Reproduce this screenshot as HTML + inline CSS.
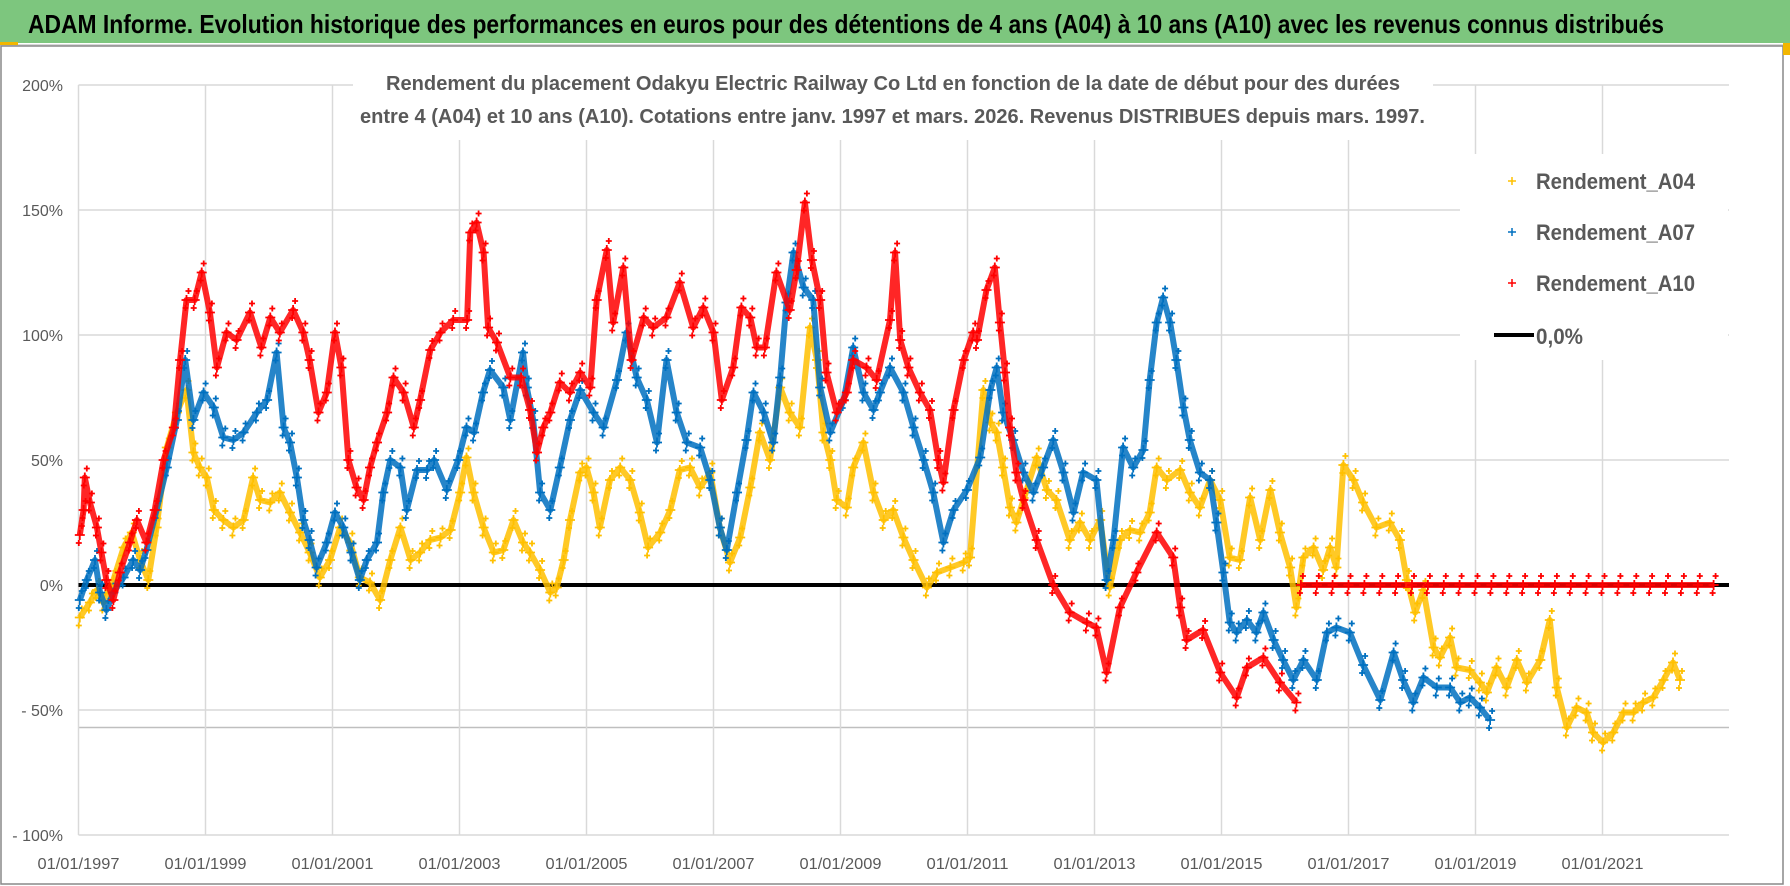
<!DOCTYPE html>
<html><head><meta charset="utf-8">
<style>
html,body{margin:0;padding:0;background:#fff;}
svg{display:block;font-family:"Liberation Sans",sans-serif;}
</style></head>
<body>
<svg id="chart" width="1790" height="886" viewBox="0 0 1790 886" xmlns="http://www.w3.org/2000/svg">
<rect x="0" y="0" width="1790" height="886" fill="#fff"/>
<rect x="0" y="0" width="1790" height="43" fill="#7dc67e"/>
<line x1="0" y1="45" x2="1790" y2="45" stroke="#d9d9d9" stroke-width="2"/>
<rect x="1" y="46" width="1782" height="838" fill="none" stroke="#888" stroke-width="1.5"/>
<rect x="0" y="42" width="18" height="3" fill="#f2b600"/>
<rect x="1783" y="43" width="7" height="12" fill="#f2b600"/>
<text x="28" y="33" font-size="26" font-weight="bold" fill="#000" textLength="1636" lengthAdjust="spacingAndGlyphs">ADAM Informe. Evolution historique des performances en euros pour des détentions de 4 ans (A04) à 10 ans (A10) avec les revenus connus distribués</text>
<g id="grid"></g>
<rect x="353" y="60" width="1080" height="80" fill="#fff"/>
<text x="386" y="90" font-size="20" font-weight="bold" fill="#595959" textLength="1014" lengthAdjust="spacingAndGlyphs">Rendement du placement Odakyu Electric Railway Co Ltd en fonction de la date de début pour des durées</text>
<text x="360" y="123" font-size="20" font-weight="bold" fill="#595959" textLength="1065" lengthAdjust="spacingAndGlyphs">entre 4 (A04) et 10 ans (A10). Cotations entre janv. 1997 et mars. 2026. Revenus DISTRIBUES depuis mars. 1997.</text>
<g id="axes"></g>
<g id="series"></g>
<g id="legend">
<rect x="1460" y="154" width="268" height="206" fill="#fff"/>
<g><path d="M1508 181h8M1512 177v8" stroke="#ffc000" stroke-width="1.5"/><text x="1536" y="189" font-size="22" font-weight="bold" fill="#595959" textLength="159" lengthAdjust="spacingAndGlyphs">Rendement_A04</text></g>
<g><path d="M1508 232h8M1512 228v8" stroke="#0070c0" stroke-width="1.5"/><text x="1536" y="240" font-size="22" font-weight="bold" fill="#595959" textLength="159" lengthAdjust="spacingAndGlyphs">Rendement_A07</text></g>
<g><path d="M1508 283h8M1512 279v8" stroke="#ff0000" stroke-width="1.5"/><text x="1536" y="291" font-size="22" font-weight="bold" fill="#595959" textLength="159" lengthAdjust="spacingAndGlyphs">Rendement_A10</text></g>
<g><line x1="1494" y1="335" x2="1534" y2="335" stroke="#000" stroke-width="4"/><text x="1536" y="344" font-size="22" font-weight="bold" fill="#595959" textLength="47" lengthAdjust="spacingAndGlyphs">0,0%</text></g>
</g>
</svg>
<script>
const yTicks = [200, 150, 100, 50, 0, -50, -100];
const yTickLabels = ["200%", "150%", "100%", "50%", "0%", "- 50%", "- 100%"];
const xTicks = [1997, 1999, 2001, 2003, 2005, 2007, 2009, 2011, 2013, 2015, 2017, 2019, 2021];
const xTickLabels = ["01/01/1997","01/01/1999","01/01/2001","01/01/2003","01/01/2005","01/01/2007","01/01/2009","01/01/2011","01/01/2013","01/01/2015","01/01/2017","01/01/2019","01/01/2021"];
const extraLineValue = -57;

const a04Dates = [1997.02,1997.18,1997.29,1997.39,1997.55,1997.71,1997.84,1997.97,1998.1,1998.23,1998.39,1998.55,1998.7,1998.81,1998.91,1999.02,1999.13,1999.28,1999.44,1999.6,1999.75,1999.86,2000.02,2000.17,2000.33,2000.49,2000.64,2000.8,2000.96,2001.12,2001.28,2001.43,2001.59,2001.75,2001.91,2002.07,2002.23,2002.38,2002.54,2002.7,2002.86,2003.01,2003.11,2003.22,2003.38,2003.54,2003.69,2003.85,2004.0,2004.11,2004.27,2004.43,2004.53,2004.64,2004.74,2004.9,2005.0,2005.11,2005.21,2005.37,2005.53,2005.69,2005.84,2005.97,2006.16,2006.32,2006.47,2006.63,2006.79,2006.95,2007.1,2007.26,2007.42,2007.58,2007.73,2007.89,2008.05,2008.2,2008.36,2008.52,2008.63,2008.73,2008.84,2008.94,2009.1,2009.2,2009.36,2009.52,2009.68,2009.83,2009.99,2010.15,2010.36,2010.52,2010.73,2010.94,2011.04,2011.25,2011.36,2011.46,2011.56,2011.67,2011.77,2011.93,2012.09,2012.25,2012.4,2012.61,2012.77,2012.93,2013.09,2013.24,2013.4,2013.56,2013.72,2013.87,2013.98,2014.14,2014.35,2014.5,2014.66,2014.82,2014.98,2015.13,2015.29,2015.45,2015.61,2015.77,2015.92,2016.08,2016.18,2016.29,2016.45,2016.6,2016.71,2016.81,2016.92,2017.08,2017.23,2017.44,2017.65,2017.81,2017.92,2018.05,2018.18,2018.34,2018.44,2018.6,2018.7,2018.91,2019.07,2019.18,2019.33,2019.49,2019.65,2019.81,2020.02,2020.17,2020.28,2020.44,2020.59,2020.75,2020.85,2021.01,2021.17,2021.33,2021.49,2021.64,2021.8,2021.96,2022.11,2022.22];
const a04Values = [-13,-7,-2,-7,2,15,21,10,2,23,55,69,78,53,47,43,30,26,23,26,43,34,33,37,29,21,13,3,10,23,17,3,1,-6,10,23,10,13,18,19,22,37,51,37,23,13,14,26,17,13,6,-3,-1,10,26,45,47,37,23,42,47,42,29,15,21,30,46,47,39,45,23,9,19,39,61,50,79,69,63,103,90,61,50,34,31,47,57,37,26,30,19,10,-1,5,7,9,11,78,65,61,47,31,25,38,51,38,34,18,25,18,26,-1,18,22,21,29,47,42,46,37,31,42,34,11,10,35,18,38,21,7,-9,11,15,6,15,7,48,42,33,23,25,18,2,-11,-2,-25,-29,-21,-33,-34,-39,-43,-33,-41,-30,-39,-30,-14,-41,-57,-49,-51,-59,-63,-59,-51,-51,-47,-45,-38,-31,-38];

const a07Dates = [1997.02,1997.13,1997.26,1997.34,1997.44,1997.55,1997.71,1997.86,1997.97,1998.07,1998.23,1998.39,1998.55,1998.68,1998.81,1998.97,1999.13,1999.28,1999.44,1999.6,1999.81,1999.97,2000.12,2000.23,2000.33,2000.44,2000.54,2000.64,2000.75,2000.91,2001.04,2001.17,2001.3,2001.43,2001.54,2001.7,2001.8,2001.91,2002.07,2002.17,2002.33,2002.49,2002.6,2002.8,2002.98,2003.11,2003.23,2003.37,2003.48,2003.69,2003.8,2004.0,2004.06,2004.16,2004.27,2004.43,2004.58,2004.74,2004.9,2005.11,2005.27,2005.48,2005.63,2005.79,2005.95,2006.11,2006.26,2006.42,2006.58,2006.79,2006.95,2007.1,2007.21,2007.37,2007.52,2007.63,2007.79,2007.94,2008.05,2008.15,2008.26,2008.42,2008.57,2008.68,2008.84,2009.05,2009.2,2009.36,2009.52,2009.62,2009.78,2009.99,2010.15,2010.31,2010.46,2010.62,2010.78,2010.99,2011.2,2011.36,2011.46,2011.56,2011.72,2011.88,2012.04,2012.19,2012.35,2012.51,2012.67,2012.82,2013.03,2013.19,2013.3,2013.45,2013.61,2013.77,2013.87,2013.98,2014.08,2014.19,2014.29,2014.4,2014.5,2014.66,2014.82,2014.92,2015.03,2015.13,2015.24,2015.4,2015.55,2015.66,2015.82,2015.97,2016.13,2016.29,2016.5,2016.66,2016.81,2017.02,2017.23,2017.5,2017.71,2017.86,2018.02,2018.18,2018.39,2018.6,2018.76,2018.91,2019.07,2019.23];
const a07Values = [-6,2,10,-3,-10,-3,3,10,6,14,30,47,66,90,66,77,71,59,58,61,69,74,93,63,57,43,26,18,7,17,29,23,13,2,10,17,37,50,47,30,46,46,50,38,50,63,61,77,86,79,66,93,79,66,37,30,47,66,78,69,63,82,101,83,74,57,90,69,57,55,42,23,14,37,58,77,69,57,83,113,133,119,114,79,61,74,95,77,70,77,87,77,63,50,37,17,30,38,51,78,87,69,58,45,37,47,58,45,29,45,42,2,18,55,47,54,82,105,115,105,90,71,58,45,42,25,5,-15,-19,-14,-19,-11,-22,-30,-38,-30,-38,-19,-17,-19,-32,-46,-27,-38,-47,-37,-41,-41,-47,-45,-49,-54];

const a10Dates = [1997.02,1997.08,1997.1,1997.18,1997.29,1997.36,1997.44,1997.55,1997.65,1997.81,1997.92,1998.07,1998.2,1998.34,1998.5,1998.6,1998.7,1998.83,1998.94,1999.07,1999.18,1999.33,1999.49,1999.7,1999.88,2000.02,2000.17,2000.38,2000.54,2000.64,2000.78,2000.91,2001.04,2001.14,2001.25,2001.38,2001.49,2001.59,2001.7,2001.86,2001.96,2002.12,2002.28,2002.38,2002.54,2002.7,2002.9,2003.12,2003.17,2003.27,2003.38,2003.45,2003.59,2003.8,2003.97,2004.11,2004.22,2004.32,2004.43,2004.58,2004.74,2004.9,2005.06,2005.16,2005.32,2005.42,2005.58,2005.71,2005.9,2006.05,2006.26,2006.47,2006.68,2006.84,2007.0,2007.13,2007.31,2007.44,2007.58,2007.68,2007.81,2007.99,2008.2,2008.31,2008.44,2008.55,2008.68,2008.78,2008.94,2009.1,2009.2,2009.41,2009.57,2009.78,2009.86,2009.94,2010.07,2010.25,2010.41,2010.54,2010.62,2010.78,2010.94,2011.09,2011.15,2011.3,2011.43,2011.51,2011.59,2011.67,2011.77,2011.88,2012.09,2012.35,2012.61,2012.88,2013.03,2013.19,2013.4,2013.66,2013.98,2014.24,2014.35,2014.45,2014.71,2014.98,2015.24,2015.4,2015.66,2015.92,2016.18,2016.25,2016.5,2016.75,2017.0,2017.25,2017.5,2017.75,2018.0,2018.25,2018.5,2018.75,2019.0,2019.25,2019.5,2019.75,2020.0,2020.25,2020.5,2020.75,2021.0,2021.25,2021.5,2021.75,2022.0,2022.25,2022.5,2022.75,2023.0];
const a10Values = [20,30,43,33,23,13,2,-6,5,17,26,17,30,50,63,90,114,114,125,109,87,101,98,109,95,107,101,110,101,90,69,77,101,87,50,39,34,47,57,69,83,77,63,74,94,101,106,106,141,145,133,103,97,83,83,70,53,63,69,81,77,85,79,114,134,105,127,90,107,103,107,121,103,111,101,74,87,111,107,95,95,125,110,126,153,130,114,85,69,77,90,87,82,106,133,98,87,77,70,50,41,70,90,101,98,118,127,105,85,63,45,34,18,0,-11,-15,-17,-35,-9,5,21,11,-9,-22,-18,-35,-45,-33,-29,-39,-47,0,0,0,0,0,0,0,0,0,0,0,0,0,0,0,0,0,0,0,0,0,0,0,0,0,0,0];

const plotLeft = 78.5, plotRight = 1729, pxPerYear = 63.5;
const zeroY = 585, pxPerPct = 2.5;
const breakJump = 30;
function xScale(yr){ return plotLeft + (yr - 1997) * pxPerYear; }
function yScale(v){ return zeroY - v * pxPerPct; }
const NS = "http://www.w3.org/2000/svg";
function mk(tag, attrs, parent){ const e = document.createElementNS(NS, tag); for (const k in attrs) e.setAttribute(k, attrs[k]); parent.appendChild(e); return e; }

const grid = document.getElementById('grid');
const axes = document.getElementById('axes');
yTicks.forEach((v, i) => {
  const ln = mk('line', {x1: plotLeft, x2: plotRight, y1: yScale(v), y2: yScale(v), stroke: '#d9d9d9', 'stroke-width': 1.5}, grid);
  
  
  const t = mk('text', {x: 63, y: yScale(v) + 6, 'text-anchor': 'end', 'font-size': 16, fill: '#595959'}, axes);
  t.textContent = yTickLabels[i];
  
  
});
const extra = mk('line', {x1: plotLeft, x2: plotRight, y1: yScale(extraLineValue), y2: yScale(extraLineValue), stroke: '#bfbfbf', 'stroke-width': 1.5}, grid);


xTicks.forEach((yr, i) => {
  const ln = mk('line', {x1: xScale(yr), x2: xScale(yr), y1: yScale(200), y2: yScale(-100), stroke: '#d9d9d9', 'stroke-width': 1.5}, grid);
  
  
  const t = mk('text', {x: xScale(yr), y: 869, 'text-anchor': 'middle', 'font-size': 16, fill: '#595959', textLength: 82, lengthAdjust: 'spacingAndGlyphs'}, axes);
  t.textContent = xTickLabels[i];
  
  
});

const series = document.getElementById('series');
const zl = mk('line', {x1: plotLeft, x2: plotRight, y1: yScale(0), y2: yScale(0), stroke: '#000', 'stroke-width': 4}, series);



function drawSeries(dates, vals, color, name){
  const g = mk('g', {}, series);
  
  
  let d = '';
  dates.forEach((yr, i) => {
    const brk = i === 0 || Math.abs(vals[i] - vals[i - 1]) > breakJump && vals[i] === 0;
    d += (brk ? 'M' : 'L') + xScale(yr).toFixed(1) + ' ' + yScale(vals[i]).toFixed(1);
  });
  mk('path', {d: d, fill: 'none', stroke: color, 'stroke-width': 6, 'stroke-linejoin': 'round', 'stroke-opacity': 0.85}, g);
  let m = '';
  dates.forEach((yr, i) => {
    const x = xScale(yr), y = yScale(vals[i]);
    m += 'M' + (x - 5).toFixed(1) + ' ' + y.toFixed(1) + 'h10M' + x.toFixed(1) + ' ' + (y - 5).toFixed(1) + 'v10';
    m += 'M' + (x - 1).toFixed(1) + ' ' + (y - 9).toFixed(1) + 'h6M' + (x + 2).toFixed(1) + ' ' + (y - 12).toFixed(1) + 'v6';
    m += 'M' + (x - 4).toFixed(1) + ' ' + (y + 8).toFixed(1) + 'h6M' + (x - 1).toFixed(1) + ' ' + (y + 5).toFixed(1) + 'v6';
  });
  mk('path', {d: m, fill: 'none', stroke: color, 'stroke-width': 1.8}, g);
}
drawSeries(a04Dates, a04Values, '#ffc000', 'series-a04');
drawSeries(a07Dates, a07Values, '#0070c0', 'series-a07');
drawSeries(a10Dates, a10Values, '#ff0000', 'series-a10');
</script>
</body></html>
